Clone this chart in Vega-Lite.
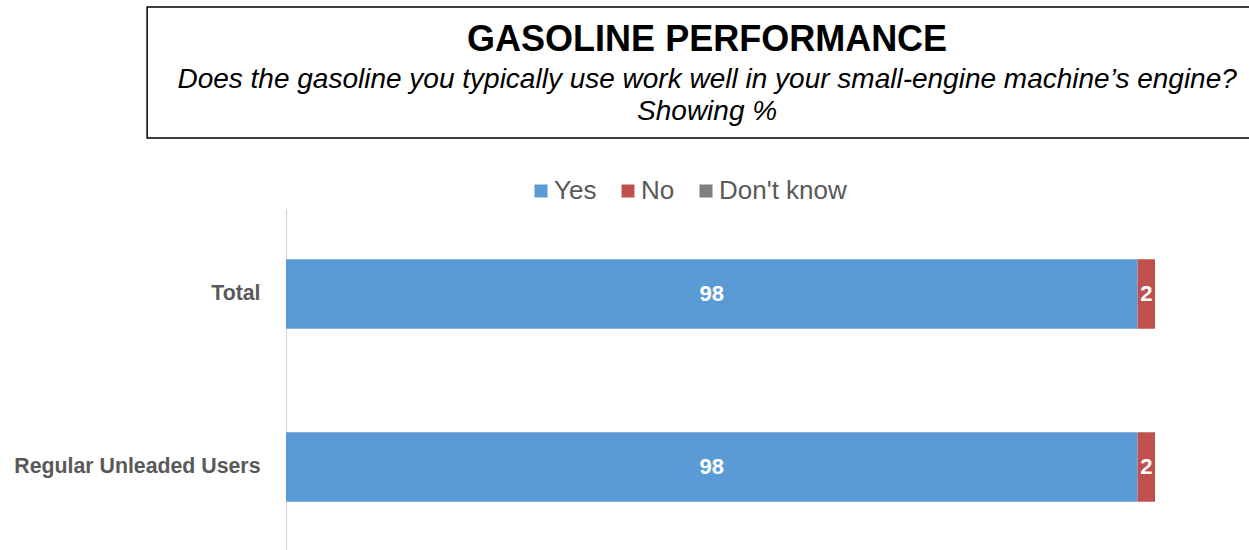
{
  "$schema": "https://vega.github.io/schema/vega-lite/v6.json",
  "padding": {"left": 13, "top": 6, "right": 0, "bottom": 0},
  "background": "white",
  "config": {"font": "Liberation Sans", "view": {"stroke": null}},
  "spacing": 39,
  "center": true,
  "resolve": {"legend": {"color": "independent"}},
  "vconcat": [
    {
      "width": 1146,
      "height": 131,
      "view": {"stroke": "#000000", "strokeWidth": 1.5},
      "data": {"values": [
        {"line": 1, "kind": "title", "text": "GASOLINE PERFORMANCE"},
        {"line": 2, "kind": "subtitle", "text": "Does the gasoline you typically use work well in your small-engine machine’s engine?"},
        {"line": 3, "kind": "subtitle", "text": "Showing %"}
      ]},
      "encoding": {
        "y": {"field": "line", "type": "ordinal", "scale": {"type": "point", "range": [41, 105], "padding": 0}, "axis": null},
        "text": {"field": "text", "type": "nominal"}
      },
      "layer": [
        {"transform": [{"filter": "datum.kind === 'title'"}], "mark": {"type": "text", "fontSize": 36, "fontWeight": "bold", "color": "#000000", "baseline": "middle", "dy": -8, "dx": -13}},
        {"transform": [{"filter": "datum.kind === 'subtitle'"}], "mark": {"type": "text", "fontSize": 28, "fontStyle": "italic", "color": "#000000", "baseline": "middle", "dx": -13}}
      ]
    },
    {
      "width": 869,
      "height": 343,
      "data": {"values": [
        {"group": "Total", "response": "Yes", "value": 98},
        {"group": "Total", "response": "No", "value": 2},
        {"group": "Total", "response": "Don't know", "value": 0},
        {"group": "Regular Unleaded Users", "response": "Yes", "value": 98},
        {"group": "Regular Unleaded Users", "response": "No", "value": 2},
        {"group": "Regular Unleaded Users", "response": "Don't know", "value": 0}
      ]},
      "encoding": {
        "y": {
          "field": "group", "type": "nominal", "sort": ["Total", "Regular Unleaded Users"],
          "scale": {"paddingInner": 0.598, "paddingOuter": 0.29},
          "axis": {"title": null, "domainColor": "#d9d9d9", "domainWidth": 1.3, "ticks": false, "tickSize": 0, "labelPadding": 26, "labelFontSize": 21.3, "labelFontWeight": "bold", "labelColor": "#595959", "labelFont": "Liberation Sans", "labelLimit": 400}
        }
      },
      "layer": [
        {
          "mark": {"type": "bar"},
          "encoding": {
            "x": {"field": "value", "type": "quantitative", "stack": "zero", "scale": {"domain": [0, 100], "nice": false}, "axis": null},
            "color": {
              "field": "response", "type": "nominal",
              "scale": {"domain": ["Yes", "No", "Don't know"], "range": ["#5B9BD5", "#C0504D", "#7F7F7F"]},
              "legend": {"title": null, "orient": "none", "legendX": 242, "legendY": -31, "direction": "horizontal", "symbolType": "square", "symbolSize": 169, "symbolStrokeWidth": 0, "symbolOpacity": 1, "labelFontSize": 26, "labelColor": "#595959", "labelOffset": 0, "columnPadding": 18, "labelFont": "Liberation Sans", "padding": 0}
            },
            "order": {"field": "response", "sort": "descending"}
          }
        },
        {
          "transform": [{"filter": "datum.value > 0"}],
          "mark": {"type": "text", "color": "white", "fontSize": 22, "fontWeight": "bold", "baseline": "middle"},
          "encoding": {
            "x": {"field": "value", "type": "quantitative", "stack": "zero", "bandPosition": 0.5},
            "detail": {"field": "response"},
            "order": {"field": "response", "sort": "descending"},
            "text": {"field": "value", "type": "quantitative"}
          }
        }
      ]
    }
  ]
}
